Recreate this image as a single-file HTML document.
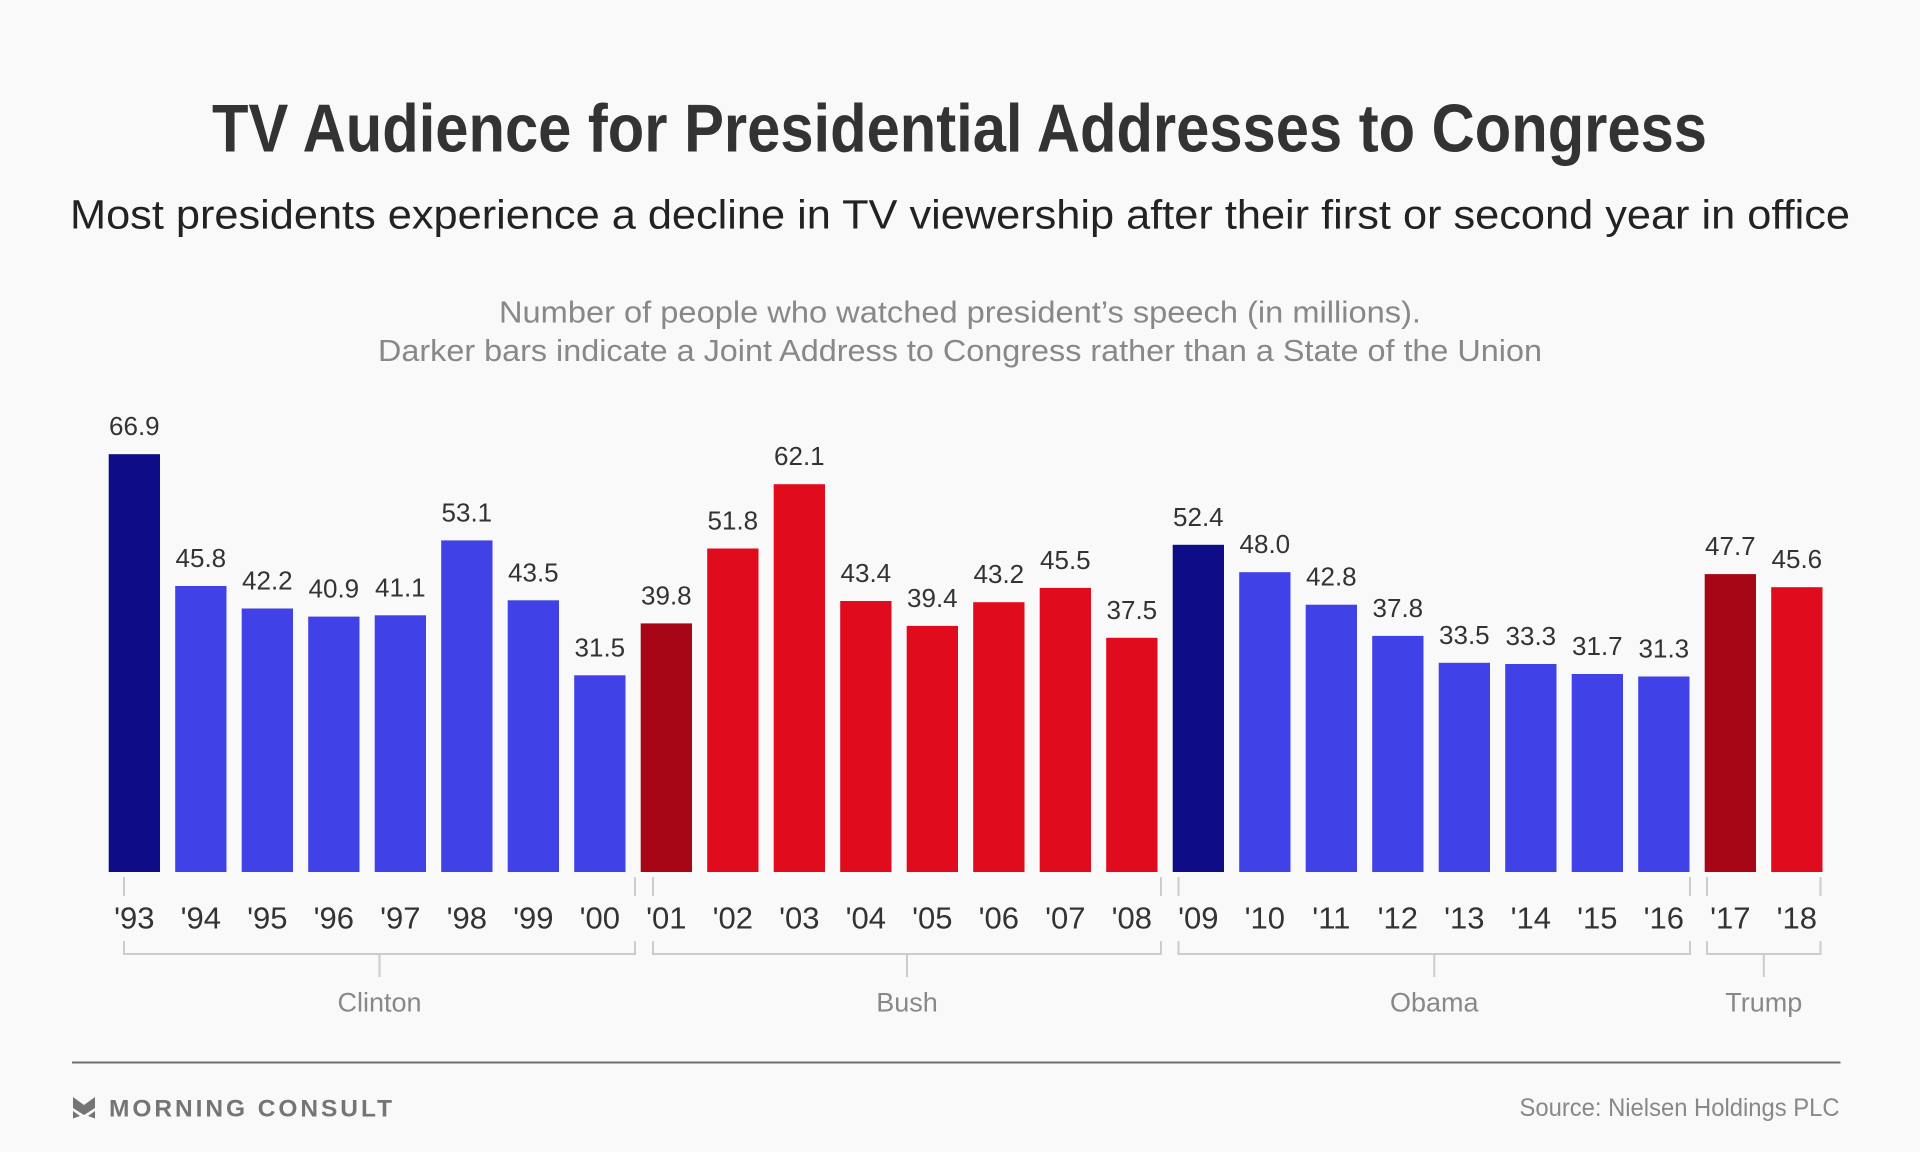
<!DOCTYPE html>
<html>
<head>
<meta charset="utf-8">
<style>
html,body{margin:0;padding:0;background:#f9f9f9;}
svg{display:block;}
text{font-family:"Liberation Sans",Arial,sans-serif;}
</style>
</head>
<body>
<svg width="1920" height="1152" viewBox="0 0 1920 1152" xmlns="http://www.w3.org/2000/svg">
<rect x="0" y="0" width="1920" height="1152" fill="#f9f9f9"/>

<!-- Titles -->
<text x="212" y="151.5" font-size="68" font-weight="bold" fill="#333333" textLength="1495" lengthAdjust="spacingAndGlyphs">TV Audience for Presidential Addresses to Congress</text>
<text x="70" y="228.3" font-size="41" fill="#222222" textLength="1780" lengthAdjust="spacingAndGlyphs">Most presidents experience a decline in TV viewership after their first or second year in office</text>
<text x="499" y="322.7" font-size="31" fill="#888888" textLength="922" lengthAdjust="spacingAndGlyphs">Number of people who watched president’s speech (in millions).</text>
<text x="378" y="361" font-size="31" fill="#888888" textLength="1164" lengthAdjust="spacingAndGlyphs">Darker bars indicate a Joint Address to Congress rather than a State of the Union</text>

<!-- Bars -->
<g>
<rect x="108.7" y="454.2" width="51.3" height="417.8" fill="#0e0c87"/>
<rect x="175.2" y="586.0" width="51.3" height="286.0" fill="#4141e8"/>
<rect x="241.7" y="608.5" width="51.3" height="263.5" fill="#4141e8"/>
<rect x="308.2" y="616.6" width="51.3" height="255.4" fill="#4141e8"/>
<rect x="374.7" y="615.3" width="51.3" height="256.7" fill="#4141e8"/>
<rect x="441.2" y="540.4" width="51.3" height="331.6" fill="#4141e8"/>
<rect x="507.7" y="600.3" width="51.3" height="271.7" fill="#4141e8"/>
<rect x="574.2" y="675.3" width="51.3" height="196.7" fill="#4141e8"/>
<rect x="640.7" y="623.4" width="51.3" height="248.6" fill="#a60616"/>
<rect x="707.2" y="548.5" width="51.3" height="323.5" fill="#e00b1c"/>
<rect x="773.7" y="484.2" width="51.3" height="387.8" fill="#e00b1c"/>
<rect x="840.2" y="601.0" width="51.3" height="271.0" fill="#e00b1c"/>
<rect x="906.7" y="625.9" width="51.3" height="246.1" fill="#e00b1c"/>
<rect x="973.2" y="602.2" width="51.3" height="269.8" fill="#e00b1c"/>
<rect x="1039.7" y="587.9" width="51.3" height="284.1" fill="#e00b1c"/>
<rect x="1106.2" y="637.8" width="51.3" height="234.2" fill="#e00b1c"/>
<rect x="1172.7" y="544.8" width="51.3" height="327.2" fill="#0e0c87"/>
<rect x="1239.2" y="572.2" width="51.3" height="299.8" fill="#4141e8"/>
<rect x="1305.7" y="604.7" width="51.3" height="267.3" fill="#4141e8"/>
<rect x="1372.2" y="635.9" width="51.3" height="236.1" fill="#4141e8"/>
<rect x="1438.7" y="662.8" width="51.3" height="209.2" fill="#4141e8"/>
<rect x="1505.2" y="664.0" width="51.3" height="208.0" fill="#4141e8"/>
<rect x="1571.7" y="674.0" width="51.3" height="198.0" fill="#4141e8"/>
<rect x="1638.2" y="676.5" width="51.3" height="195.5" fill="#4141e8"/>
<rect x="1704.7" y="574.1" width="51.3" height="297.9" fill="#a60616"/>
<rect x="1771.2" y="587.2" width="51.3" height="284.8" fill="#e00b1c"/>
</g>

<!-- Value labels -->
<g font-size="26" fill="#333333" text-anchor="middle">
<text x="134.35" y="435.2">66.9</text>
<text x="200.85" y="567.0">45.8</text>
<text x="267.35" y="589.5">42.2</text>
<text x="333.85" y="597.6">40.9</text>
<text x="400.35" y="596.3">41.1</text>
<text x="466.85" y="521.4">53.1</text>
<text x="533.35" y="581.3">43.5</text>
<text x="599.85" y="656.3">31.5</text>
<text x="666.35" y="604.4">39.8</text>
<text x="732.85" y="529.5">51.8</text>
<text x="799.35" y="465.2">62.1</text>
<text x="865.85" y="582.0">43.4</text>
<text x="932.35" y="606.9">39.4</text>
<text x="998.85" y="583.2">43.2</text>
<text x="1065.35" y="568.9">45.5</text>
<text x="1131.85" y="618.8">37.5</text>
<text x="1198.35" y="525.8">52.4</text>
<text x="1264.85" y="553.2">48.0</text>
<text x="1331.35" y="585.7">42.8</text>
<text x="1397.85" y="616.9">37.8</text>
<text x="1464.35" y="643.8">33.5</text>
<text x="1530.85" y="645.0">33.3</text>
<text x="1597.35" y="655.0">31.7</text>
<text x="1663.85" y="657.5">31.3</text>
<text x="1730.35" y="555.1">47.7</text>
<text x="1796.85" y="568.2">45.6</text>
</g>

<!-- Top ticks -->
<g stroke="#cccccc" stroke-width="2" fill="none">
<line x1="124" y1="877" x2="124" y2="896"/>
<line x1="635" y1="877" x2="635" y2="896"/>
<line x1="653" y1="877" x2="653" y2="896"/>
<line x1="1161" y1="877" x2="1161" y2="896"/>
<line x1="1178.5" y1="877" x2="1178.5" y2="896"/>
<line x1="1690" y1="877" x2="1690" y2="896"/>
<line x1="1707" y1="877" x2="1707" y2="896"/>
<line x1="1820.5" y1="877" x2="1820.5" y2="896"/>
<!-- Brackets -->
<path d="M124 941 V954 H635 V941"/>
<path d="M653 941 V954 H1161 V941"/>
<path d="M1178.5 941 V954 H1690 V941"/>
<path d="M1707 941 V954 H1820.5 V941"/>
<line x1="379.5" y1="954" x2="379.5" y2="977"/>
<line x1="907" y1="954" x2="907" y2="977"/>
<line x1="1434.3" y1="954" x2="1434.3" y2="977"/>
<line x1="1763.8" y1="954" x2="1763.8" y2="977"/>
</g>

<!-- Year labels -->
<g font-size="31" fill="#333333" text-anchor="middle">
<text x="134.35" y="928.3">'93</text>
<text x="200.85" y="928.3">'94</text>
<text x="267.35" y="928.3">'95</text>
<text x="333.85" y="928.3">'96</text>
<text x="400.35" y="928.3">'97</text>
<text x="466.85" y="928.3">'98</text>
<text x="533.35" y="928.3">'99</text>
<text x="599.85" y="928.3">'00</text>
<text x="666.35" y="928.3">'01</text>
<text x="732.85" y="928.3">'02</text>
<text x="799.35" y="928.3">'03</text>
<text x="865.85" y="928.3">'04</text>
<text x="932.35" y="928.3">'05</text>
<text x="998.85" y="928.3">'06</text>
<text x="1065.35" y="928.3">'07</text>
<text x="1131.85" y="928.3">'08</text>
<text x="1198.35" y="928.3">'09</text>
<text x="1264.85" y="928.3">'10</text>
<text x="1331.35" y="928.3">'11</text>
<text x="1397.85" y="928.3">'12</text>
<text x="1464.35" y="928.3">'13</text>
<text x="1530.85" y="928.3">'14</text>
<text x="1597.35" y="928.3">'15</text>
<text x="1663.85" y="928.3">'16</text>
<text x="1730.35" y="928.3">'17</text>
<text x="1796.85" y="928.3">'18</text>
</g>

<!-- Group labels -->
<g font-size="27" fill="#888888" text-anchor="middle">
<text x="379.5" y="1011.7">Clinton</text>
<text x="907" y="1011.7">Bush</text>
<text x="1434.3" y="1011.7">Obama</text>
<text x="1763.8" y="1011.7">Trump</text>
</g>

<!-- Footer -->
<line x1="72" y1="1062.5" x2="1840.5" y2="1062.5" stroke="#6e6e6e" stroke-width="2"/>
<g fill="#757575">
<polygon points="73,1097 84,1105 95,1097 95,1108 84,1115 73,1108"/>
<polygon points="73,1111 80,1116 73,1118.5"/>
<polygon points="95,1111 88,1116 95,1118.5"/>
</g>
<text x="109" y="1116.7" font-size="24.5" font-weight="bold" fill="#757575" textLength="283" lengthAdjust="spacing">MORNING CONSULT</text>
<text x="1519.5" y="1116" font-size="25" fill="#888888" textLength="320" lengthAdjust="spacingAndGlyphs">Source: Nielsen Holdings PLC</text>
</svg>
</body>
</html>
